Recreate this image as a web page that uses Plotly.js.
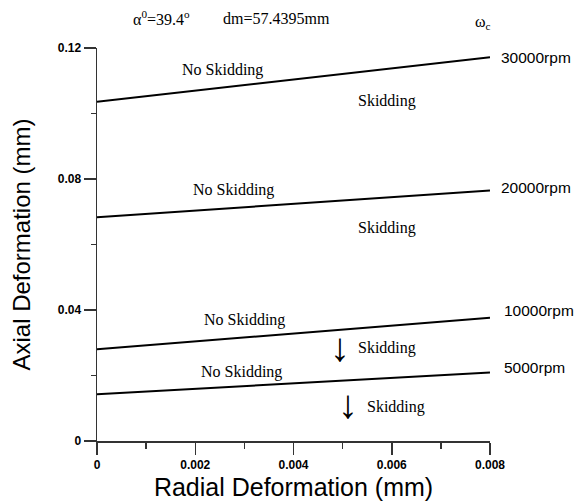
<!DOCTYPE html>
<html>
<head>
<meta charset="utf-8">
<script src="https://cdn.plot.ly/plotly-3.0.1.min.js"></script>
<style>html,body{margin:0;padding:0;background:#fff}#chart{width:578px;height:504px}</style>
</head>
<body>
<div id="chart"></div>
<script>
// Radial deformation (mm) at line ends
const radial = [0, 0.008];
// Axial deformation (mm) for each speed
const speeds = ["30000rpm", "20000rpm", "10000rpm", "5000rpm"];
const axial30000 = [0.1036, 0.1172];
const axial20000 = [0.0683, 0.0765];
const axial10000 = [0.0280, 0.0376];
const axial5000 = [0.0143, 0.0209];
const series = [axial30000, axial20000, axial10000, axial5000];

const traces = series.map((ys, i) => ({
  x: radial, y: ys, type: 'scatter', mode: 'lines', name: speeds[i],
  line: {color: '#000', width: 2}, showlegend: false, hoverinfo: 'none'
}));

const serif = {family: 'Liberation Serif, Times New Roman, serif', size: 16, color: '#000'};
const sans = {family: 'Liberation Sans, Arial, sans-serif', size: 15.5, color: '#000'};
const arrowFont = {family: 'Liberation Serif, Times New Roman, serif', size: 40, color: '#000'};
function ann(text, x, y, font, extra) {
  return Object.assign({text: text, x: x, y: y, xref: 'paper', yref: 'paper',
    xanchor: 'left', yanchor: 'middle', showarrow: false, font: font}, extra || {});
}
const rpmPos = [[1.022, 0.975], [1.022, 0.646], [1.030, 0.331], [1.030, 0.188]];
const annotations = [
  ann('α<sup>0</sup>=39.4<sup>o</sup>', 0.086, 1.076, serif),
  ann('dm=57.4395mm', 0.315, 1.076, serif),
  ann('ω<sub>c</sub>', 0.956, 1.066, serif),
  ann('No Skidding', 0.211, 0.944, serif),
  ann('Skidding', 0.659, 0.865, serif),
  ann('No Skidding', 0.239, 0.639, serif),
  ann('Skidding', 0.659, 0.542, serif),
  ann('No Skidding', 0.267, 0.308, serif),
  ann('↓', 0.618, 0.239, arrowFont, {xanchor: 'center'}),
  ann('Skidding', 0.659, 0.237, serif),
  ann('No Skidding', 0.259, 0.176, serif),
  ann('↓', 0.639, 0.092, arrowFont, {xanchor: 'center'}),
  ann('Skidding', 0.681, 0.087, serif)
].concat(speeds.map((s, i) => ann(s, rpmPos[i][0], rpmPos[i][1], sans)));

const tickFont = {family: 'Liberation Sans, Arial, sans-serif', size: 12, color: '#000', weight: 'bold'};
const layout = {
  width: 578, height: 504,
  margin: {l: 97, r: 88, t: 48, b: 63},
  paper_bgcolor: '#fff', plot_bgcolor: '#fff',
  showlegend: false,
  xaxis: {
    range: [0, 0.008], dtick: 0.002, tick0: 0, showgrid: false, zeroline: false,
    showline: true, linecolor: '#333', linewidth: 1.5,
    ticks: 'outside', ticklen: 12, tickwidth: 1.5, tickcolor: '#333',
    minor: {dtick: 0.001, ticks: 'outside', ticklen: 6, tickwidth: 1.5, tickcolor: '#333', showgrid: false},
    tickfont: tickFont,
    title: {text: 'Radial Deformation (mm)', font: {family: 'Liberation Sans, Arial, sans-serif', size: 25, color: '#000'}, standoff: 7}
  },
  yaxis: {
    range: [0, 0.12], dtick: 0.04, tick0: 0, showgrid: false, zeroline: false,
    showline: true, linecolor: '#333', linewidth: 1.5,
    ticks: 'outside', ticklen: 12, tickwidth: 1.5, tickcolor: '#333',
    minor: {dtick: 0.02, ticks: 'outside', ticklen: 5, tickwidth: 1.5, tickcolor: '#333', showgrid: false},
    tickfont: tickFont,
    title: {text: 'Axial Deformation (mm)', font: {family: 'Liberation Sans, Arial, sans-serif', size: 24, color: '#000'}, standoff: 20}
  },
  annotations: annotations
};
Plotly.newPlot('chart', traces, layout, {displayModeBar: false, staticPlot: true});
</script>
</body>
</html>
